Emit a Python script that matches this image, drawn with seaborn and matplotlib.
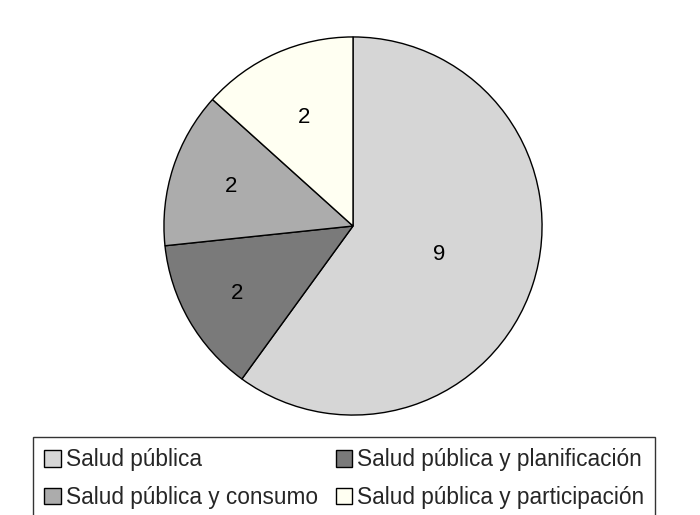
import matplotlib
matplotlib.use("Agg")
import seaborn as sns
from matplotlib import pyplot as plt
import numpy as np

categorias = ["Salud pública", "Salud pública y planificación",
              "Salud pública y consumo", "Salud pública y participación"]
valores = [9, 2, 2, 2]
colores = ["#D6D6D6", "#7A7A7A", "#ACACAC", "#FFFFF2"]
# distancia de cada etiqueta al centro (fraccion del radio)
dist_etiquetas = [0.48, 0.71, 0.68, 0.63]

sns.set_style("white")
plt.rcParams['font.family'] = ['Liberation Sans', 'DejaVu Sans']

fig = plt.figure(figsize=(7, 5.15), dpi=100)
W, H = 700, 515
cx, cy, r = 353, 226, 190
ax = fig.add_axes([(cx - r) / W, (H - cy - r) / H, 2 * r / W, 2 * r / H])

wedges, textos = ax.pie(valores, colors=colores, startangle=90, counterclock=False,
                        labels=[str(v) for v in valores], labeldistance=0.5,
                        wedgeprops=dict(edgecolor="black", linewidth=1.0),
                        textprops=dict(fontsize=16, color="black"))

for w, t, d in zip(wedges, textos, dist_etiquetas):
    ang = np.deg2rad((w.theta1 + w.theta2) / 2)
    t.set_position((d * np.cos(ang), d * np.sin(ang)))
    t.set_ha("center")
    t.set_va("center")

ax.set_xlim(-1.005, 1.005)
ax.set_ylim(-1.005, 1.005)
ax.set_aspect("equal")

# la leyenda se llena por filas en el original
orden = [0, 2, 1, 3]
leg = fig.legend([wedges[i] for i in orden], [categorias[i] for i in orden],
                 loc="upper left", bbox_to_anchor=(33 / W, 1 - 437 / H), ncol=2,
                 fontsize=16.3, frameon=True, fancybox=False, edgecolor="black",
                 handlelength=0.74, handleheight=0.74, handletextpad=0.2,
                 columnspacing=0.8, labelspacing=0.65, borderpad=0.5,
                 borderaxespad=0)
leg.get_frame().set_linewidth(1.0)

fig.savefig("out.png", dpi=100, facecolor="white")
